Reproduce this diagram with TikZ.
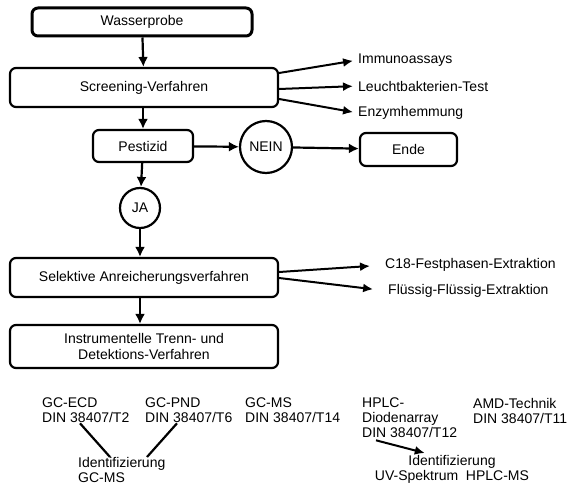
\documentclass[tikz,border=0pt]{standalone}
\usepackage{fontspec}
\setmainfont{Liberation Sans}
\usetikzlibrary{arrows.meta}
\usetikzlibrary{scopes}
\tikzset{box/.style={draw=black, line width=2.2pt, rounded corners=6pt, inner sep=0pt, align=center},
%round decision nodes
  ring/.style={draw=black, circle, line width=2.2pt, inner sep=0pt}}

\begin{document}
\begin{tikzpicture}
      [
      x=1pt, y=-1pt,
      every node/.style={font=\fontsize{14}{16}\selectfont},
      flow/.style={->,>={Latex[length=10pt,width=10pt]},line width=2.2pt},
      side/.style={->,>={Latex[length=10pt,width=9pt]},line width=2pt},
      outtext/.style={anchor=west,inner sep=0pt},
      method/.style={anchor=north west,inner sep=0pt,align=left,font=\fontsize{14}{15}\selectfont},
      ]
      \useasboundingbox (0,0) rectangle (571,487);
      \def\bw{268} % width of the main boxes
      % main column
      \node[box,line width=3pt,minimum width=220pt,minimum height=28pt] (wasser) at (142,22) {Wasserprobe};
      \node[box,minimum width=\bw pt,minimum height=39pt] (screen) at (144,87.5) {Screening-Verfahren};
      \node[box,minimum width=100pt,minimum height=32pt] (pest) at (143,146) {Pestizid};
      \node[ring,minimum size=52pt] (nein) at (266,147) {NEIN};
      \node[box,minimum width=97pt,minimum height=33pt] (ende) at (408.5,149.5) {Ende};
      \node[ring,minimum size=40pt] (ja) at (140,208) {JA};
      \node[box,minimum width=\bw pt,minimum height=39pt] (anreich) at (144,277.5) {Selektive Anreicherungsverfahren};
      \node[box,minimum width=\bw pt,minimum height=43pt] (instr) at (144,346.5) {Instrumentelle Trenn- und\\Detektions-Verfahren};
      % side outputs
      \node[outtext] (immuno) at (358,60) {Immunoassays};
      \node[outtext] (leucht) at (358,86) {Leuchtbakterien-Test};
      \node[outtext] (enzym) at (358,113) {Enzymhemmung};
      \node[outtext] (cachtzehn) at (385,265) {C18-Festphasen-Extraktion};
      \node[outtext] (fluessig) at (388,291) {Flüssig-Flüssig-Extraktion};
      % methods
      \node[method] (ecd) at (42,398) {GC-ECD\\DIN 38407/T2};
      \node[method] (pnd) at (145,398) {GC-PND\\DIN 38407/T6};
      \node[method] (gcms) at (245,398) {GC-MS\\DIN 38407/T14};
      \node[method] (hplc) at (362,398) {HPLC-\\Diodenarray\\DIN 38407/T12};
      \node[method] (amd) at (473,398) {AMD-Technik\\DIN 38407/T11};
      \node[method] (idgc) at (78,457) {Identifizierung\\GC-MS};
      \node[anchor=north,inner sep=0pt,align=center,font=\fontsize{14}{15}\selectfont] (idhplc) at (452,455) {Identifizierung\\UV-Spektrum\ \ HPLC-MS};
      {[flow]
        \draw (wasser) -- (screen);
        \draw (screen.south -| pest) -- (pest);
        \draw (pest) -- (nein);
        \draw (nein) -- (ende);
        \draw (pest) -- (ja);
        \draw (ja) -- (anreich.north -| ja);
        \draw (anreich.south -| ja) -- (instr.north -| ja);
      }
      {[side,shorten >=5pt]
        \draw ([yshift=14.5pt]screen.east) -- (immuno.west);
        \draw ([yshift=-1.5pt]screen.east) -- (leucht.west);
        \draw ([yshift=-11.5pt]screen.east) -- (enzym.west);
      }
      {[side,shorten >=15pt]
        \draw ([yshift=5.5pt]anreich.east) -- (cachtzehn.west);
        \draw ([yshift=-0.5pt]anreich.east) -- (fluessig.west);
      }
      {[line width=2.2pt]
        \draw ([xshift=38pt]ecd.south west) -- ([xshift=32pt]idgc.north west);
        \draw ([xshift=32pt]pnd.south west) -- ([xshift=69pt]idgc.north west);
      }
      \draw[side] ([xshift=14pt,yshift=-2pt]hplc.south west) -- ([xshift=50pt,yshift=2pt]idhplc.north west);
    \end{tikzpicture}
\end{document}
